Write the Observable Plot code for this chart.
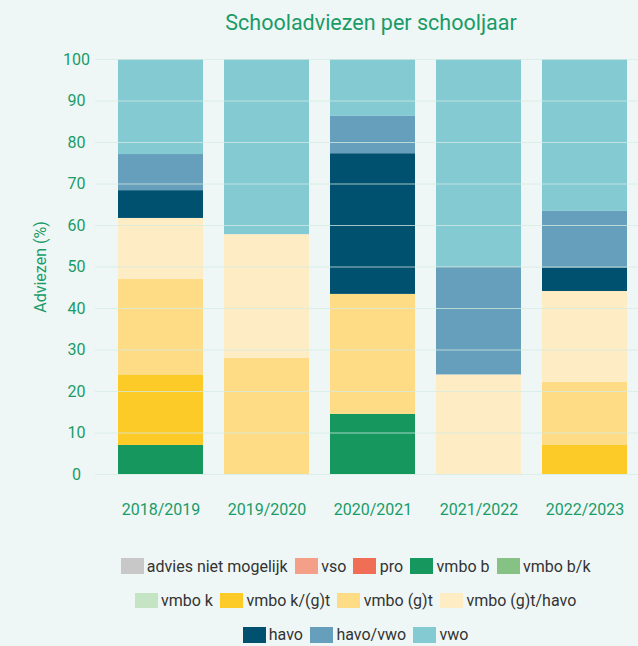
<!DOCTYPE html>
<html>
<head>
<meta charset="utf-8">
<script src="https://cdn.jsdelivr.net/npm/d3@7"></script>
<script src="https://cdn.jsdelivr.net/npm/@observablehq/plot@0.6"></script>
<style>
  html, body { margin: 0; padding: 0; background: #eef7f6; }
  #wrap { position: relative; width: 638px; height: 646px; background: #eef7f6; overflow: hidden; font-family: Roboto, "Noto Sans", sans-serif; }
  #title { position: absolute; left: 371px; top: 8.6px; transform: translateX(-50%); font-size: 21.5px; color: #1a9b68; white-space: nowrap; line-height: 28px; }
  #ylabel { position: absolute; left: 40px; top: 267px; transform: translate(-50%, -50%) rotate(-90deg); font-size: 16px; color: #1a9b68; white-space: nowrap; }
  #chart { position: absolute; left: 0; top: 0; }
  #legend { position: absolute; left: 55.5px; top: 549px; width: 600px; font-size: 16px; color: #333; }
  .row { display: flex; justify-content: center; align-items: center; height: 34.4px; }
  .item { display: flex; align-items: center; margin: 0 3.6px; }
  .sw { width: 23px; height: 15.5px; margin-right: 3.3px; }
</style>
</head>
<body>
<div id="wrap">
  <div id="chart"></div>
  <div id="title">Schooladviezen per schooljaar</div>
  <div id="ylabel">Adviezen (%)</div>
  <div id="legend"></div>
</div>
<script>
const years = ["2018/2019", "2019/2020", "2020/2021", "2021/2022", "2022/2023"];
const categories = ["advies niet mogelijk", "vso", "pro", "vmbo b", "vmbo b/k", "vmbo k", "vmbo k/(g)t", "vmbo (g)t", "vmbo (g)t/havo", "havo", "havo/vwo", "vwo"];
const colors = ["#c8c8c8", "#f4a088", "#f06e55", "#16975e", "#86c283", "#c5e4c4", "#fccb28", "#fedc86", "#feecc4", "#00506f", "#669fbb", "#84cad3"];
// values per year, in category order
const y2018_2019 = [0, 0, 0, 7.0, 0, 0, 17.0, 23.0, 14.7, 6.7, 8.7, 22.9];
const y2019_2020 = [0, 0, 0, 0, 0, 0, 0, 28.0, 29.8, 0, 0, 42.2];
const y2020_2021 = [0, 0, 0, 14.5, 0, 0, 0, 28.9, 0, 33.9, 9.0, 13.7];
const y2021_2022 = [0, 0, 0, 0, 0, 0, 0, 0, 24.0, 0, 26.0, 50.0];
const y2022_2023 = [0, 0, 0, 0, 0, 0, 7.0, 15.2, 21.9, 5.7, 13.6, 36.6];
const yTicks = [0, 10, 20, 30, 40, 50, 60, 70, 80, 90, 100];
const legendRows = [5, 4, 3];

const series = [y2018_2019, y2019_2020, y2020_2021, y2021_2022, y2022_2023];
const table = [];
years.forEach((yr, i) => categories.forEach((c, j) => table.push({year: yr, cat: c, value: series[i][j]})));

const chart = Plot.plot({
  width: 638,
  height: 530,
  marginTop: 59,
  marginBottom: 56,
  marginLeft: 95,
  marginRight: 0,
  style: { background: "transparent", fontFamily: "Roboto, sans-serif", fontSize: "16px", color: "#1a9b68" },
  x: { domain: years, range: [107, 637], paddingInner: 0.2, paddingOuter: 0.1, label: null },
  y: { domain: [0, 100], label: null },
  color: { domain: categories, range: colors },
  marks: [
    Plot.barY(table, { x: "year", y: "value", fill: "cat" }),
    Plot.gridY(yTicks, { stroke: "#d4ebe3", strokeOpacity: 0.75, strokeWidth: 1 }),
    Plot.axisY(yTicks, { tickSize: 0, tickPadding: 19, textAnchor: "middle", label: null }),
    Plot.axisX({ tickSize: 0, tickPadding: 29, label: null })
  ]
});
document.getElementById("chart").appendChild(chart);

const legend = document.getElementById("legend");
let k = 0;
legendRows.forEach(n => {
  const row = document.createElement("div");
  row.className = "row";
  for (let i = 0; i < n; i++, k++) {
    const it = document.createElement("div");
    it.className = "item";
    const sw = document.createElement("div");
    sw.className = "sw";
    sw.style.background = colors[k];
    const t = document.createElement("span");
    t.textContent = categories[k];
    it.appendChild(sw);
    it.appendChild(t);
    row.appendChild(it);
  }
  legend.appendChild(row);
});
</script>
</body>
</html>
